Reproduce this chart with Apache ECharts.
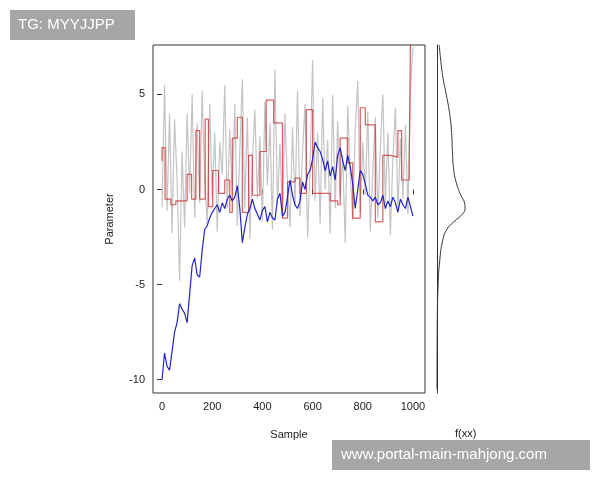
<!DOCTYPE html>
<html>
<head>
<meta charset="utf-8">
<script src="https://cdn.jsdelivr.net/npm/echarts@6/dist/echarts.min.js"></script>
<style>html,body{margin:0;padding:0;background:#fff}#main{width:600px;height:480px}</style>
</head>
<body>
<div id="main"></div>
<script>
// samples every 10 steps
var sampleX = [];
for (var i = 0; i <= 1000; i += 10) sampleX.push(i);

var grayVals = [-0.9,5.5,-1.1,4.0,-2.3,3.7,0.5,-4.8,2.0,-2.0,4.0,-0.2,5.0,-1.5,3.5,-0.7,5.2,0.5,-1.8,4.5,
  -0.5,3.0,-2.2,2.5,0.8,5.5,-1.0,3.2,-0.3,4.5,-1.9,2.0,5.8,-1.0,3.8,-2.6,1.5,4.2,-0.5,2.8,
  -1.7,4.6,0.2,3.5,-2.1,6.3,-0.8,2.4,-1.5,4.0,0.3,-2.0,3.3,-0.9,5.2,-1.4,2.0,4.5,-2.5,1.2,
  6.8,-0.6,3.0,-1.8,4.8,0.0,2.6,-2.3,5.0,-1.0,3.6,-0.4,1.8,-2.8,4.4,0.8,-1.6,3.2,5.7,-1.2,
  2.5,-0.3,4.1,-2.2,1.0,3.8,-1.5,2.2,5.0,-0.7,3.0,-2.4,1.6,4.3,-1.1,2.7,-0.5,3.4,-1.3,5.2,7.5];

var blueVals = [-10,-8.6,-9.3,-9.5,-8.5,-7.5,-7,-6,-6.3,-6.5,-7,-5.5,-4,-3.6,-4.5,-4.6,-3.2,-2.1,-1.9,-1.5,
  -1.2,-1.0,-0.8,-1.2,-0.7,-1.0,-0.5,-0.3,-0.6,-0.4,0.2,-1.0,-2.8,-2.0,-1.3,-1.0,-0.5,-1.0,-1.3,-1.6,
  -1.1,-0.9,-1.7,-1.2,-1.5,-1.6,-0.5,-0.2,-1.4,-1.2,-0.4,0.5,-0.3,-0.8,-1.0,-0.6,0.4,0.0,0.8,1.0,
  1.6,2.5,2.2,2.0,1.6,1.0,1.5,0.7,1.2,0.5,1.8,2.2,1.5,1.0,1.8,1.2,0.3,-1.0,0.0,1.0,
  0.8,0.3,-0.3,-0.4,-0.6,-0.4,-0.8,-0.7,-0.3,-1.0,-0.6,-0.9,-0.4,-0.7,-1.2,-0.5,-0.8,-1.0,-0.4,-0.9,-1.4];

var redSteps = [[0,1.5],[12,2.2],[35,-0.5],[55,-0.8],[100,-0.6],[118,0.8],[135,-0.5],[150,3.1],[172,-0.5],
  [185,3.7],[202,-0.9],[225,1.0],[250,-0.2],[270,0.5],[280,-1.2],[300,2.7],[320,3.8],[345,-1.2],[360,1.8],
  [390,-0.3],[415,2.0],[445,4.7],[480,3.5],[500,-1.5],[530,0.4],[550,0.6],[575,-0.2],[600,4.2],[635,-0.2],
  [670,-0.2],[700,-0.6],[710,-0.8],[740,2.7],[760,1.4],[790,-1.5],[810,4.3],[850,3.4],[880,-1.7],[910,1.8],
  [940,1.7],[955,3.1],[985,0.5],[990,1.3],[998,7.8]];

var densY = [7.6,6,5,4,3,2,1,0.3,-0.3,-0.7,-1,-1.3,-1.7,-2.1,-2.7,-3.7,-5,-7,-10.5];
var densV = [0.08,0.2,0.33,0.45,0.52,0.55,0.6,0.7,0.85,0.98,1.0,0.9,0.6,0.35,0.2,0.1,0.04,0.01,0];

var xTicks = [0,200,400,600,800,1000];
var yTicks = [-10,-5,0,5];
var font = 'Liberation Sans, Arial, sans-serif';

var chart = echarts.init(document.getElementById('main'));
chart.setOption({
  animation: false,
  grid: [
    {left: 153, top: 45, width: 272, height: 348, show: true, borderColor: '#333', borderWidth: 1, backgroundColor: '#fff'},
    {left: 437, top: 45, width: 30, height: 348}
  ],
  xAxis: [
    {gridIndex: 0, type: 'value', min: -36, max: 1048, splitLine: {show: false},
     axisLine: {show: false},
     axisTick: {show: true, length: 5, customValues: xTicks, lineStyle: {color: '#333'}},
     axisLabel: {customValues: xTicks, color: '#222', fontFamily: font, fontSize: 11, margin: 8,
       formatter: function (v) { return String(v); }},
     name: 'Sample', nameLocation: 'middle', nameGap: 36, nameTextStyle: {color: '#222', fontFamily: font, fontSize: 11}},
    {gridIndex: 1, type: 'value', min: 0, max: 1.07, show: false}
  ],
  yAxis: [
    {gridIndex: 0, type: 'value', min: -10.7, max: 7.6, splitLine: {show: false},
     axisLine: {show: false},
     axisTick: {show: true, length: 5, customValues: yTicks, lineStyle: {color: '#333'}},
     axisLabel: {customValues: yTicks, color: '#222', fontFamily: font, fontSize: 11, margin: 8},
     name: 'Parameter', nameLocation: 'middle', nameGap: 38, nameTextStyle: {color: '#222', fontFamily: font, fontSize: 11}},
    {gridIndex: 1, type: 'value', min: -10.7, max: 7.6,
     axisLine: {show: true, lineStyle: {color: '#333'}}, axisTick: {show: false}, axisLabel: {show: false}, splitLine: {show: false}}
  ],
  series: [
    {type: 'line', xAxisIndex: 0, yAxisIndex: 0, symbol: 'none',
     data: sampleX.map(function (x, i) { return [x, grayVals[i]]; }),
     lineStyle: {color: '#c4c4c4', width: 1.2}},
    {type: 'line', xAxisIndex: 0, yAxisIndex: 0, symbol: 'none', step: 'start',
     data: redSteps, lineStyle: {color: 'rgba(200,40,40,0.75)', width: 1.2}},
    {type: 'line', xAxisIndex: 0, yAxisIndex: 0, symbol: 'none',
     data: sampleX.map(function (x, i) { return [x, blueVals[i]]; }),
     lineStyle: {color: '#2424c8', width: 1.2}},
    {type: 'line', xAxisIndex: 1, yAxisIndex: 1, symbol: 'none', smooth: true,
     data: densY.map(function (y, i) { return [densV[i], y]; }),
     lineStyle: {color: '#333', width: 1}}
  ],
  graphic: [
    {type: 'text', left: 455, top: 428, style: {text: 'f(xx)', fill: '#222', font: '11px ' + font}},
    {type: 'rect', shape: {x: 10, y: 10, width: 125, height: 30}, style: {fill: '#a6a6a6'}},
    {type: 'text', left: 18, top: 17, style: {text: 'TG: MYYJJPP', fill: '#fff', font: '15px ' + font}},
    {type: 'rect', shape: {x: 332, y: 440, width: 258, height: 30}, style: {fill: '#a6a6a6'}},
    {type: 'text', left: 341, top: 447, style: {text: 'www.portal-main-mahjong.com', fill: '#fff', font: '15px ' + font}}
  ]
});
</script>
</body>
</html>
